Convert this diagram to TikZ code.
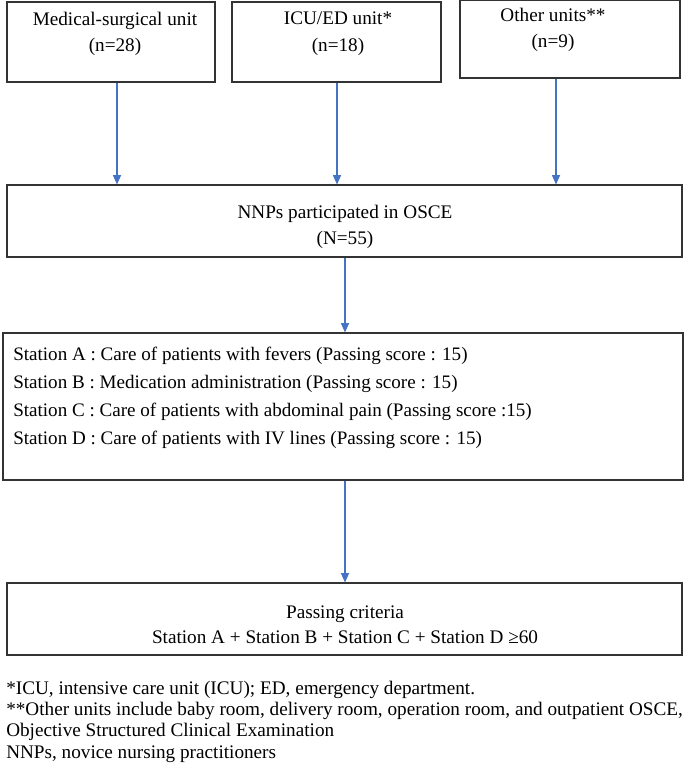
\documentclass[tikz,border=0pt]{standalone}
\usepackage{fontspec}
\setmainfont{Liberation Serif}
\usetikzlibrary{positioning,arrows.meta,fit}
\usepackage{xcolor}
\definecolor{flow}{HTML}{4472C4}
\definecolor{edge}{HTML}{333333}

\begin{document}
\begin{tikzpicture}[x=0.75pt,y=-0.75pt,
      box/.style={draw=edge,line width=0.8pt,inner sep=0pt},
      txt/.style={align=center,font=\fontsize{14.4}{20}\selectfont,inner sep=0pt},
      lst/.style={align=left,font=\fontsize{14.3}{21}\selectfont,inner sep=0pt,anchor=west},
      note/.style={align=left,font=\fontsize{14.4}{15.9}\selectfont,inner sep=0pt,anchor=north west},
      arr/.style={-{Triangle[length=7pt,width=6pt]},draw=flow,line width=0.9pt}]

    \useasboundingbox (0,0) rectangle (685,767);

    % units
    \node[box,fit={(7,2) (215,82)}] (med) {};
    \node[box,fit={(232,2) (441,82)}] (icu) {};
    \node[box,fit={(460,0) (680,78)}] (oth) {};
    \node[txt] (medtxt) at (115,34) {Medical-surgical unit\\(n=28)};
    \node[txt] (icutxt) at (338,34) {ICU/ED unit*\\(n=18)};
    \node[txt] (othtxt) at (553,30) {Other units**\\(n=9)};

    % participants
    \node[box,fit={(7,185) (682,257)}] (nnp) {};
    \node[txt] (nnptxt) at (345,227) {NNPs participated in OSCE\\(N=55)};

    % stations
    \node[box,fit={(3,333) (683,480)}] (sta) {};
    \node[lst] (statxt) at (13,398) {Station A : Care of patients with fevers (Passing score : 15)\\
      Station B : Medication administration (Passing score : 15)\\
      Station C : Care of patients with abdominal pain (Passing score :15)\\
      Station D : Care of patients with IV lines (Passing score : 15)};

    % criteria
    \node[box,fit={(7,583) (682,655)}] (pass) {};
    \node[txt,font=\fontsize{14.4}{19}\selectfont] (passtxt) at (345,625) {Passing criteria\\
      Station A + Station B + Station C + Station D ≥60};

    \draw[arr] (117,0 |- med.south) -- (117,0 |- nnp.north);
    \draw[arr] (337,0 |- icu.south) -- (337,0 |- nnp.north);
    \draw[arr] (556,0 |- oth.south) -- (556,0 |- nnp.north);
    \draw[arr] (345,0 |- nnp.south) -- (345,0 |- sta.north);
    \draw[arr] (345,0 |- sta.south) -- (345,0 |- pass.north);

    \node[note] (notes) at (6,681) {*ICU, intensive care unit (ICU); ED, emergency department.\\
      **Other units include baby room, delivery room, operation room, and outpatient OSCE,\\
      Objective Structured Clinical Examination\\
      NNPs, novice nursing practitioners};
  \end{tikzpicture}
\end{document}
